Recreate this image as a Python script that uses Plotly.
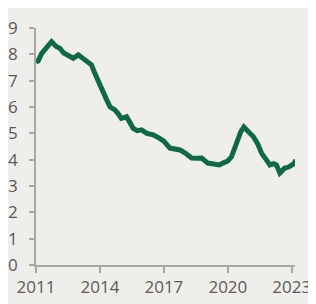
import plotly.graph_objects as go

years = [2011.0, 2011.1, 2011.27, 2011.5, 2011.73, 2011.95, 2012.12, 2012.3, 2012.44, 2012.6, 2012.75, 2012.98,
         2013.2, 2013.45, 2013.6, 2013.75, 2013.92, 2014.1, 2014.3, 2014.47, 2014.7, 2014.85, 2015.0, 2015.25,
         2015.4, 2015.56, 2015.75, 2015.95, 2016.2, 2016.5, 2016.8, 2017.0, 2017.28, 2017.5, 2017.75, 2018.0,
         2018.3, 2018.55, 2018.77, 2019.06, 2019.3, 2019.6, 2019.77, 2020.0, 2020.17, 2020.4, 2020.6, 2020.75,
         2020.95, 2021.2, 2021.4, 2021.58, 2021.8, 2021.97, 2022.15, 2022.28, 2022.44, 2022.55, 2022.67, 2022.85,
         2022.98, 2023.1, 2023.2]
rates = [7.7, 7.75, 8.04, 8.3, 8.48, 8.3, 8.23, 8.05, 7.98, 7.88, 7.85, 7.98,
         7.85, 7.72, 7.6, 7.3, 6.96, 6.7, 6.3, 6.01, 5.89, 5.75, 5.57, 5.63,
         5.45, 5.19, 5.1, 5.13, 5.0, 4.94, 4.81, 4.7, 4.44, 4.4, 4.37, 4.25,
         4.06, 4.05, 4.06, 3.87, 3.85, 3.8, 3.87, 3.95, 4.11, 4.63, 5.05, 5.24,
         5.1, 4.87, 4.6, 4.25, 4.0, 3.8, 3.85, 3.8, 3.49, 3.6, 3.68, 3.72,
         3.8, 3.85, 3.99]
x_ticks = [2011, 2014, 2017, 2020, 2023]
y_ticks = [0, 1, 2, 3, 4, 5, 6, 7, 8, 9]

fig = go.Figure(go.Scatter(x=years, y=rates, mode="lines",
                           line=dict(color="#0e6a45", width=5), cliponaxis=False))
axis_font = dict(family="Open Sans", size=17, color="#595959")
fig.update_layout(
    width=308, height=296,
    margin=dict(l=28, r=21, t=20, b=39),
    paper_bgcolor="#f0eeeb", plot_bgcolor="#f0eeeb",
    showlegend=False,
    xaxis=dict(range=[2011, 2023.15], tickvals=x_ticks, ticktext=[str(t) for t in x_ticks],
               showgrid=False, zeroline=False, showline=True, linecolor="#a8a8a8", linewidth=1.5,
               ticks="outside", ticklen=6, tickcolor="#a8a8a8", tickwidth=1.5, tickfont=axis_font,
               automargin=False),
    yaxis=dict(range=[0, 9], tickvals=y_ticks, showgrid=False, zeroline=False, showline=True,
               linecolor="#a8a8a8", linewidth=1.5, ticks="outside", ticklen=5, tickcolor="#a8a8a8",
               tickwidth=1.5, tickfont=axis_font, ticklabelstandoff=8, automargin=False),
)
fig.write_html("out.html")
